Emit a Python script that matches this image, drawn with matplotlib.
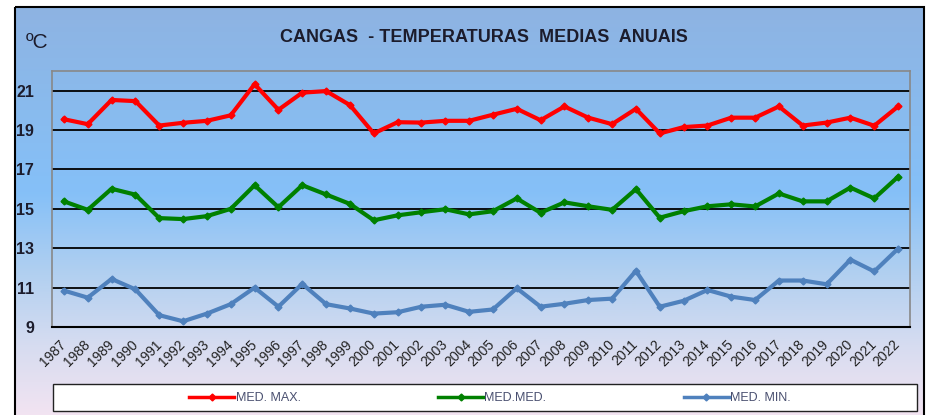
import numpy as np
import matplotlib
matplotlib.use('Agg')
import matplotlib.pyplot as plt
from matplotlib.colors import LinearSegmentedColormap
from matplotlib.patches import Rectangle

plt.rcParams['font.family'] = ['Liberation Sans', 'DejaVu Sans']

years = list(range(1987, 2023))

med_max = [19.55, 19.3, 20.53, 20.47, 19.23, 19.37, 19.47, 19.75, 21.33, 20.03,
           20.9, 20.98, 20.27, 18.83, 19.4, 19.38, 19.47, 19.47, 19.78, 20.08,
           19.5, 20.2, 19.63, 19.3, 20.08, 18.83, 19.15, 19.23, 19.63, 19.63,
           20.2, 19.23, 19.38, 19.63, 19.22, 20.2]

med_med = [15.38, 14.95, 16.02, 15.72, 14.53, 14.48, 14.63, 15.0, 16.2, 15.08,
           16.2, 15.73, 15.25, 14.42, 14.67, 14.83, 14.98, 14.72, 14.88, 15.53,
           14.8, 15.33, 15.13, 14.95, 16.0, 14.55, 14.88, 15.13, 15.23, 15.12,
           15.78, 15.38, 15.38, 16.08, 15.53, 16.63]

med_min = [10.85, 10.49, 11.44, 10.91, 9.6, 9.29, 9.68, 10.16, 11.0, 10.03,
           11.19, 10.16, 9.94, 9.68, 9.75, 10.03, 10.13, 9.77, 9.89, 10.97,
           10.03, 10.18, 10.37, 10.44, 11.85, 10.03, 10.33, 10.88, 10.54, 10.37,
           11.36, 11.36, 11.17, 12.42, 11.82, 12.98]

y_ticks = [9, 11, 13, 15, 17, 19, 21]

W, H = 926, 415
fig = plt.figure(figsize=(W / 100, H / 100), dpi=100)

# background gradient (blue at top, pale lavender at bottom)
bg = fig.add_axes([0, 0, 1, 1], zorder=-2)
bg.set_xlim(0, W)
bg.set_ylim(H, 0)
bg.axis('off')
cmap = LinearSegmentedColormap.from_list('bg', [
    (0.0, '#8eb3e2'), (0.25, '#89bbee'), (0.45, '#85c0f8'),
    (0.65, '#b2d0f0'), (0.82, '#d6dcf0'), (1.0, '#f4e4f2')])
grad = np.linspace(0, 1, 256).reshape(-1, 1)
bg.imshow(grad, cmap=cmap, aspect='auto', extent=[15, 924, 420, 7])
bg.add_patch(Rectangle((15, 7), 909, 420, fill=False, edgecolor='black', lw=1.5))
bg.add_patch(Rectangle((53, 384), 864, 27, facecolor='white', edgecolor='#222222', lw=1.0))

bg.text(484, 37, 'CANGAS  - TEMPERATURAS  MEDIAS  ANUAIS', ha='center', va='center',
        fontsize=13, fontweight='bold', color='#1c1c2c')
bg.text(26, 42, 'ºC', ha='left', va='center', fontsize=15, color='#1c1c2c')

ax = fig.add_axes([52 / W, 1 - 327 / H, 858 / W, 256 / H])
ax.set_facecolor('none')
x = np.arange(len(years))
ax.plot(x, med_max, color='#ff0000', lw=3.0, marker='D', markersize=3.5, label='MED. MAX.', zorder=3)
ax.plot(x, med_med, color='#008000', lw=3.0, marker='D', markersize=3.5, label='MED.MED.', zorder=3)
ax.plot(x, med_min, color='#4f81bd', lw=3.0, marker='D', markersize=3.5, label='MED. MIN.', zorder=3)

ax.set_xlim(-0.5, len(years) - 0.5)
ax.set_ylim(9, 22)
ax.set_yticks(y_ticks)
ax.set_yticklabels([str(v) for v in y_ticks], fontsize=11.5, fontweight='bold', color='#1c1c2c')
ax.set_xticks(x)
ax.set_xticklabels([str(y) for y in years], rotation=45, ha='right', va='center',
                   rotation_mode='anchor', fontsize=10, color='#222222')
ax.tick_params(axis='y', length=0, pad=13)
ax.tick_params(axis='x', length=0, pad=11)
for v in y_ticks[1:]:
    ax.axhline(v, color='black', lw=1.3, zorder=1)
for side in ['left', 'top', 'right']:
    ax.spines[side].set_color('#888888')
    ax.spines[side].set_linewidth(1.2)
ax.spines['bottom'].set_color('black')
ax.spines['bottom'].set_linewidth(1.5)

leg = fig.legend(loc='center', bbox_to_anchor=(490 / W, 1 - 398 / H), ncol=3, frameon=False,
                 fontsize=9, handlelength=3.6, handletextpad=0.1, columnspacing=11.0,
                 labelcolor='#4a5070')
for line in leg.get_lines():
    line.set_linewidth(2.5)

fig.savefig('out.png', dpi=100)
